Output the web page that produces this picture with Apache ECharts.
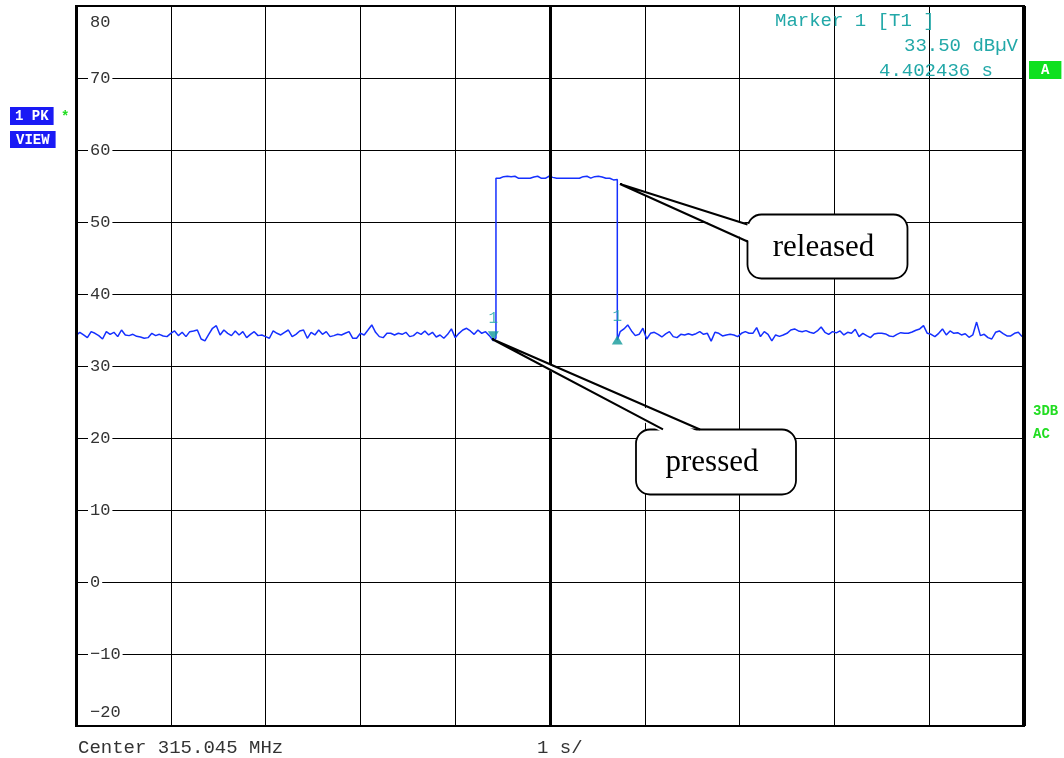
<!DOCTYPE html>
<html><head><meta charset="utf-8">
<script src="https://cdn.jsdelivr.net/npm/echarts@6/dist/echarts.min.js"></script>
<style>html,body{margin:0;padding:0;background:#fff}#c{width:1064px;height:758px}</style>
</head><body><div id="c"></div>
<script>
// ---- data ----
const timeStep = 0.04;              // s between samples
const preValues = [
 34.22,34.68,34.31,33.94,34.77,34.54,34.22,33.75,34.77,34.40,
 34.68,34.08,35.00,34.31,34.22,34.40,34.12,34.03,33.85,33.94,
 34.54,34.22,34.40,34.17,34.08,34.54,34.87,34.22,34.68,34.08,
 34.77,34.87,35.00,33.75,33.48,34.40,35.24,35.60,34.31,35.00,
 34.54,34.22,34.87,34.31,34.77,33.94,34.40,34.77,34.22,34.31,
 34.08,33.85,34.87,34.54,34.31,34.68,35.00,34.08,34.40,34.87,
 35.00,33.85,34.68,34.31,35.00,34.40,34.77,34.08,34.22,34.40,
 34.31,34.54,34.77,33.85,
 33.85,34.54,34.31,35.00,35.70,34.68,34.08,33.94,34.54,34.54,
 34.31,34.54,34.40,34.68,34.08,34.22,34.68,34.40,34.87,34.31,
 34.68,34.03,34.31,33.85,34.40,35.15,33.94,34.54,35.00,35.24,
 34.87,34.40,35.00,34.54,34.77,34.22
];
const pressedMarker = [4.402436, 33.50];
const riseTime = 4.43;
const riseFoot = 33.9;
const highValues = [
 56.07,56.07,56.30,56.35,56.30,56.35,56.07,56.07,56.07,56.07,
 56.25,56.35,56.07,56.07,56.35,56.20,56.07,56.07,56.07,56.07,
 56.07,56.07,56.07,56.30,56.35,56.10,56.30,56.35,56.25,56.07,
 56.07,55.85,55.90
];
const releasedMarker = [5.71, 33.60];
const postStart = 5.74;
const postValues = [
 34.77,35.15,35.70,34.87,34.22,34.40,35.24,33.75,34.54,34.68,
 34.40,34.03,34.45,34.77,34.08,33.94,34.40,34.31,34.49,34.31,
 34.49,34.77,34.40,34.54,33.45,34.68,34.54,34.17,34.31,34.40,
 34.31,34.08,34.54,34.77,34.54,34.54,35.33,34.08,34.77,34.40,
 33.48,34.31,34.12,34.31,34.54,35.00,35.15,34.87,34.77,34.91,
 34.68,34.54,34.87,35.42,34.68,
 34.40,34.77,34.60,34.87,34.31,34.68,34.54,35.10,34.08,34.54,
 34.22,33.94,34.45,34.54,34.54,34.45,34.17,34.08,34.40,34.63,
 34.54,34.54,34.72,34.96,35.15,35.60,34.54,34.40,34.08,34.54,
 35.15,34.31,34.87,34.54,34.63,34.31,34.49,33.99,34.31,36.10,
 34.22,34.40,33.94,33.75,34.68,34.87,34.49,34.17,34.17,34.54,
 34.68,34.08
];
const yMin = -20, yMax = 80, yStep = 10;
const xMin = 0, xMax = 10, xStep = 1;
const centerTime = 5;
const calloutTexts = ['released', 'pressed'];
const calloutTips = [[5.738, 55.28], [4.388, 33.75]];
const calloutCenters = [[7.927, 46.60], [6.751, 16.67]];
const markerTitle = 'Marker 1 [T1 ]';
const markerLevel = '33.50 dBµV';
const markerTime = '4.402436 s';
const footerLeft = 'Center 315.045 MHz';
const footerMid = '1 s/';

// ---- build trace ----
const trace = [];
preValues.forEach((v, i) => trace.push([i * timeStep, v]));
trace.push(pressedMarker);
trace.push([riseTime, riseFoot]);
highValues.forEach((v, i) => trace.push([riseTime + i * timeStep, v]));
trace.push(releasedMarker);
postValues.forEach((v, i) => trace.push([postStart + i * timeStep, v]));

const TEAL = '#22a8a8';
const MARK = '#129a9a';
const MONO = 'Liberation Mono';
const fmt = v => (v < 0 ? '\u2212' + Math.abs(v) : String(v));

const chart = echarts.init(document.getElementById('c'), null, {renderer: 'canvas'});
chart.setOption({
  animation: false,
  backgroundColor: '#fff',
  grid: {left: 76, right: 40, top: 6, bottom: 32, show: true, borderColor: '#000', borderWidth: 2, backgroundColor: 'transparent'},
  xAxis: {
    type: 'value', min: xMin, max: xMax, interval: xStep,
    axisLabel: {show: false}, axisTick: {show: false}, axisLine: {show: false},
    splitLine: {show: true, lineStyle: {color: '#000', width: 1}}
  },
  yAxis: {
    type: 'value', min: yMin, max: yMax, interval: yStep,
    axisTick: {show: false}, axisLine: {show: false},
    splitLine: {show: true, lineStyle: {color: '#000', width: 1}},
    axisLabel: {
      inside: true, margin: 12,
      formatter: v => v === yMax ? '{top|' + fmt(v) + '}' : (v === yMin ? '{bot|' + fmt(v) + '}' : '{mid|' + fmt(v) + '}'),
      rich: {
        mid: {fontFamily: MONO, fontSize: 17, color: '#333', backgroundColor: '#fff', padding: [1, 2, 1, 2]},
        top: {fontFamily: MONO, fontSize: 17, color: '#333', padding: [32, 2, 0, 2]},
        bot: {fontFamily: MONO, fontSize: 17, color: '#333', padding: [0, 2, 28, 2]}
      }
    }
  },
  series: [
    {
      type: 'line', data: trace, symbol: 'none', showSymbol: false, sampling: null,
      lineStyle: {color: '#1530ff', width: 1.5}, z: 3,
      markLine: {
        silent: true, symbol: 'none', label: {show: false}, animation: false,
        data: [
          {xAxis: xMin, lineStyle: {color: '#000', width: 3, type: 'solid'}},
          {xAxis: centerTime, lineStyle: {color: '#000', width: 3, type: 'solid'}},
          {xAxis: xMax, lineStyle: {color: '#000', width: 4, type: 'solid'}}
        ]
      }
    },
    {
      type: 'scatter', data: [pressedMarker], symbol: 'path://M0 0 L10 0 L5 9 Z',
      symbolSize: [11, 9], symbolOffset: [0, -5], z: 4,
      itemStyle: {color: MARK},
      label: {show: true, formatter: '1', position: 'top', distance: 5, color: TEAL, fontFamily: MONO, fontSize: 16}
    },
    {
      type: 'scatter', data: [releasedMarker], symbol: 'path://M5 0 L10 9 L0 9 Z',
      symbolSize: [11, 9], z: 4,
      itemStyle: {color: MARK},
      label: {show: true, formatter: '1', position: 'top', distance: 11, color: TEAL, fontFamily: MONO, fontSize: 16}
    }
  ]
});

// ---- annotations (positions from the chart's own scales) ----
const g = [];
const boxSizes = [[160, 64], [160, 65]];
calloutTexts.forEach((txt, k) => {
  const tip = chart.convertToPixel({gridIndex: 0}, calloutTips[k]);
  const c = chart.convertToPixel({gridIndex: 0}, calloutCenters[k]);
  const w = boxSizes[k][0], h = boxSizes[k][1];
  const bx = c[0] - w / 2, by = c[1] - h / 2;
  let b1, b2, i1, i2;
  if (k === 0) { // pointer enters left edge
    b1 = [bx, by + 10]; b2 = [bx, by + 27];
    i1 = [bx + 3, by + 10]; i2 = [bx + 3, by + 27];
  } else {       // pointer enters top edge
    b1 = [bx + 27, by]; b2 = [bx + 64, by];
    i1 = [bx + 27, by + 3]; i2 = [bx + 64, by + 3];
  }
  g.push({type: 'rect', z: 100, shape: {x: bx, y: by, width: w, height: h, r: 14},
          style: {fill: '#fff', stroke: '#000', lineWidth: 1.8}});
  g.push({type: 'polygon', z: 101, shape: {points: [tip, i1, i2]}, style: {fill: '#fff', stroke: null}});
  g.push({type: 'polyline', z: 102, shape: {points: [b1, tip, b2]}, style: {fill: null, stroke: '#000', lineWidth: 2}});
  g.push({type: 'text', z: 103, x: c[0] - 4, y: c[1] + 1,
          style: {text: txt, font: '31px "Liberation Serif"', fill: '#000', align: 'center', verticalAlign: 'middle'}});
});
// side panel labels
const boxFont = 'bold 14px "Liberation Mono"';
g.push({type: 'text', z: 50, x: 10, y: 107, style: {text: '1 PK', font: boxFont, fill: '#fff', backgroundColor: '#1a1af5', padding: [2, 5, 2, 5]}});
g.push({type: 'text', z: 50, x: 61, y: 110, style: {text: '*', font: boxFont, fill: '#22dd22'}});
g.push({type: 'text', z: 50, x: 10, y: 131, style: {text: 'VIEW', font: boxFont, fill: '#fff', backgroundColor: '#1a1af5', padding: [2, 6, 1, 6]}});
g.push({type: 'text', z: 50, x: 1029, y: 61, style: {text: 'A', font: boxFont, fill: '#fff', backgroundColor: '#0fe01f', padding: [2, 12, 2, 12]}});
g.push({type: 'text', z: 50, x: 1033, y: 411, style: {text: '3DB', font: boxFont, fill: '#22dd22', verticalAlign: 'middle'}});
g.push({type: 'text', z: 50, x: 1033, y: 434, style: {text: 'AC', font: boxFont, fill: '#22dd22', verticalAlign: 'middle'}});
// marker readout
const rdFont = '19px "Liberation Mono"';
g.push({type: 'text', z: 50, x: 775, y: 21, style: {text: markerTitle, font: rdFont, fill: TEAL, verticalAlign: 'middle'}});
g.push({type: 'text', z: 50, x: 1018, y: 46, style: {text: markerLevel, font: rdFont, fill: TEAL, align: 'right', verticalAlign: 'middle'}});
g.push({type: 'text', z: 50, x: 993, y: 71, style: {text: markerTime, font: rdFont, fill: TEAL, align: 'right', verticalAlign: 'middle'}});
// footer
g.push({type: 'text', z: 50, x: 78, y: 748, style: {text: footerLeft, font: rdFont, fill: '#333', verticalAlign: 'middle'}});
g.push({type: 'text', z: 50, x: 537, y: 748, style: {text: footerMid, font: rdFont, fill: '#333', verticalAlign: 'middle'}});
chart.setOption({graphic: g});
</script>
</body></html>
